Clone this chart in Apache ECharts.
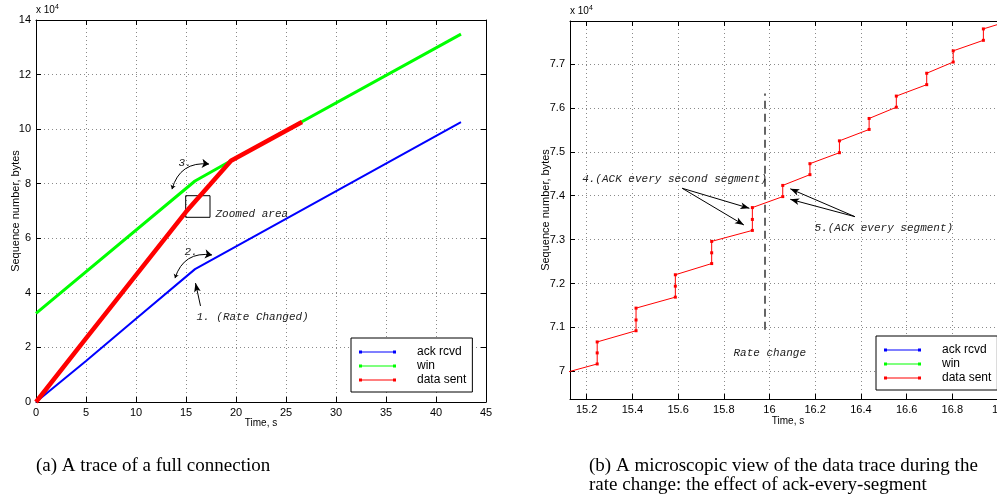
<!DOCTYPE html>
<html>
<head>
<meta charset="utf-8">
<script src="https://cdn.jsdelivr.net/npm/echarts@6/dist/echarts.min.js"></script>
<style>
  html, body { margin: 0; padding: 0; background: #fff; }
  #chart { width: 997px; height: 499px; }
</style>
</head>
<body>
<div id="chart"></div>
<script>
// (a) trace of the full connection: [time s, sequence number bytes]
const ackRcvd = [[0, 0], [5, 15000], [10, 30500], [15.9, 48700], [42.5, 102600]];
const win = [[0, 32500], [15.9, 81000], [19.5, 88400], [42.5, 134800]];
const dataSent = [[0, 0], [5, 23300], [10, 46500], [15, 69700], [19.5, 88400], [26.6, 102600]];

// (b) microscopic view around the rate change (data sent only)
const dataSentZoom = [
  [15.10, 69960],
  [15.246, 70168], [15.246, 70420], [15.246, 70670],
  [15.416, 70925], [15.416, 71170], [15.416, 71440],
  [15.588, 71690], [15.588, 71940], [15.588, 72200],
  [15.747, 72455], [15.747, 72700], [15.747, 72960],
  [15.925, 73210], [15.925, 73460], [15.925, 73730],
  [16.058, 73980], [16.058, 74235],
  [16.177, 74480], [16.177, 74730],
  [16.306, 74980], [16.306, 75250],
  [16.436, 75510], [16.436, 75760],
  [16.555, 76016], [16.555, 76270],
  [16.688, 76530], [16.688, 76790],
  [16.804, 77045], [16.804, 77300],
  [16.936, 77540], [16.936, 77800],
  [17.03, 77950]
];

const seriesNames = ['ack rcvd', 'win', 'data sent'];
const colors = ['#0000ff', '#00ff00', '#ff0000'];
const captionA = '(a) A trace of a full connection';
const captionB = '(b) A microscopic view of the data trace during the\nrate change: the effect of ack-every-segment';

const sans = 'Liberation Sans, Arial, Helvetica, sans-serif';
const mono = 'Liberation Mono, Courier New, monospace';
const serif = 'Liberation Serif, Times New Roman, serif';

const myChart = echarts.init(document.getElementById('chart'));

const gridLine = {show: true, lineStyle: {color: '#8a8a8a', type: [1, 3], width: 1}};

function axis(gridIndex, position, min, max, step, main, extra) {
  return Object.assign({
    type: 'value',
    gridIndex: gridIndex,
    position: position,
    min: min,
    max: max,
    minInterval: step,
    maxInterval: step,
    splitNumber: 30,
    axisLine: {show: true, onZero: false, lineStyle: {color: '#000', width: 1}},
    axisTick: {show: true, inside: true, length: 5, lineStyle: {color: '#000'}},
    axisLabel: main ? {
      show: true, color: '#000', fontSize: 11, fontFamily: sans, margin: 5
    } : {show: false},
    splitLine: main ? gridLine : {show: false},
    nameMoveOverlap: false
  }, extra || {});
}

const legendIcon = 'path://M0,0h3v3h-3zM3,1h31v1h-31zM34,0h3v3h-3z';
function legend(left, top) {
  return {
    data: seriesNames,
    orient: 'vertical',
    left: left,
    top: top,
    icon: legendIcon,
    itemWidth: 37,
    itemHeight: 3,
    itemGap: 0,
    padding: [7, 6, 5, 8],
    selectedMode: false,
    backgroundColor: '#fff',
    borderColor: '#000',
    borderWidth: 1,
    borderRadius: 0,
    itemStyle: {borderWidth: 0},
    textStyle: {color: '#000', fontSize: 12, fontFamily: sans, lineHeight: 14, padding: [0, 0, 0, 16]}
  };
}

const annoLabel = {
  show: true, position: 'right', distance: 0, formatter: '{b}',
  color: '#222', fontFamily: mono, fontStyle: 'italic', fontSize: 11
};
const arrowLine = {color: '#000', width: 1, type: 'solid'};

// "x 10^4" multiplier, shown as the name of the top axis of each panel
const multName = 'x 10{s|4}';
const multStyle = {
  color: '#000', fontSize: 10, fontFamily: sans, align: 'left', verticalAlign: 'bottom',
  padding: [0, 0, 3, 0],
  rich: {s: {fontSize: 7, fontFamily: sans, padding: [0, 0, 6, 0]}}
};
const xNameStyle = {color: '#000', fontSize: 10, fontFamily: sans};
const yTitleStyle = {color: '#000', fontSize: 11, fontFamily: sans};
const hideEnds = {showMinLabel: false, showMaxLabel: false};
const byTenThousand = v => String(+(v / 10000).toFixed(4));

const yAxes = [
  axis(0, 'left', 0, 140000, 20000, true, {
    name: 'Sequence number, bytes', nameLocation: 'middle', nameGap: 15, nameTextStyle: yTitleStyle
  }),
  axis(0, 'right', 0, 140000, 20000, false),
  axis(1, 'left', 69370, 77980, 1000, true, {
    name: 'Sequence number, bytes', nameLocation: 'middle', nameGap: 19, nameTextStyle: yTitleStyle
  }),
  axis(1, 'right', 69370, 77980, 1000, false)
];
yAxes[0].axisLabel.formatter = byTenThousand;
yAxes[2].axisLabel.formatter = byTenThousand;
Object.assign(yAxes[2].axisLabel, hideEnds);

const xAxes = [
  axis(0, 'bottom', 0, 45, 5, true, {
    name: 'Time, s', nameLocation: 'middle', nameGap: 16, nameTextStyle: xNameStyle
  }),
  axis(0, 'top', 0, 45, 5, false, {
    name: multName, nameLocation: 'start', nameGap: 0, nameTextStyle: multStyle
  }),
  axis(1, 'bottom', 15.127, 17.035, 0.2, true, {
    name: 'Time, s', nameLocation: 'middle', nameGap: 17, nameTextStyle: xNameStyle
  }),
  axis(1, 'top', 15.127, 17.035, 0.2, false, {
    name: multName, nameLocation: 'start', nameGap: 0, nameTextStyle: multStyle
  })
];
Object.assign(xAxes[2].axisLabel, hideEnds);

const captionStyle = {fontFamily: serif, fontSize: 19, fontWeight: 'normal', color: '#000', lineHeight: 19};

myChart.setOption({
  animation: false,
  backgroundColor: '#fff',
  title: [
    {text: captionA, left: 36, top: 457, padding: 0, textStyle: captionStyle},
    {text: captionB, left: 589, top: 457, padding: 0, textStyle: captionStyle}
  ],
  legend: [legend(351, 338), legend(876, 336)],
  grid: [
    {left: 36, top: 20, width: 450, height: 382, outerBoundsMode: 'none', containLabel: false},
    {left: 570, top: 21, width: 436, height: 378, outerBoundsMode: 'none', containLabel: false}
  ],
  xAxis: xAxes,
  yAxis: yAxes,
  series: [
    {
      name: seriesNames[0], type: 'line', xAxisIndex: 0, yAxisIndex: 0,
      data: ackRcvd, showSymbol: false, symbol: 'none', color: colors[0],
      lineStyle: {width: 2, color: colors[0]}, z: 3
    },
    {
      name: seriesNames[1], type: 'line', xAxisIndex: 0, yAxisIndex: 0,
      data: win, showSymbol: false, symbol: 'none', color: colors[1],
      lineStyle: {width: 3, color: colors[1]}, z: 3
    },
    {
      name: seriesNames[2], type: 'line', xAxisIndex: 0, yAxisIndex: 0,
      data: dataSent, showSymbol: false, symbol: 'none', color: colors[2],
      lineStyle: {width: 4.5, color: colors[2]}, z: 4
    },
    {
      // straight annotations of panel (a)
      name: 'notes a', type: 'line', xAxisIndex: 0, yAxisIndex: 0, data: [], silent: true, z: 5,
      markLine: {
        silent: true, animation: false, symbolSize: [5, 9], label: {show: false},
        lineStyle: arrowLine,
        data: [
          [{coord: [16.45, 35200], symbol: 'none'}, {coord: [15.95, 43600], symbol: 'arrow'}]
        ]
      },
      markArea: {
        silent: true,
        itemStyle: {color: 'rgba(0,0,0,0)', borderColor: '#000', borderWidth: 1},
        data: [[{coord: [14.97, 75610]}, {coord: [17.4, 67690]}]]
      },
      markPoint: {
        silent: true, symbol: 'rect', symbolSize: 1, itemStyle: {color: 'rgba(0,0,0,0)'},
        label: annoLabel,
        data: [
          {name: '3.', coord: [14.2, 87600]},
          {name: '2.', coord: [14.8, 54900]},
          {name: '1. (Rate Changed)', coord: [16.0, 31150]},
          {name: 'Zoomed area', coord: [17.9, 68900]}
        ]
      }
    },
    {
      // curved double arrows 2. and 3. of panel (a)
      name: 'curves a', type: 'lines', coordinateSystem: 'cartesian2d',
      xAxisIndex: 0, yAxisIndex: 0, silent: true, z: 5,
      symbol: ['arrow', 'arrow'], symbolSize: [4, 7],
      lineStyle: {color: '#000', width: 1, type: 'solid', curveness: 0.42, opacity: 1},
      data: [
        {coords: [[13.6, 78000], [17.3, 87200]]},
        {coords: [[13.9, 45400], [17.6, 53900]]}
      ]
    },
    {
      name: seriesNames[2], type: 'line', xAxisIndex: 2, yAxisIndex: 2,
      data: dataSentZoom, symbol: 'rect', symbolSize: 3, showSymbol: true, showAllSymbol: true,
      color: colors[2], itemStyle: {color: colors[2]},
      lineStyle: {width: 1, color: colors[2]}, z: 4, clip: true
    },
    {
      // annotations of panel (b)
      name: 'notes b', type: 'line', xAxisIndex: 2, yAxisIndex: 2, data: [], silent: true, z: 5,
      markLine: {
        silent: true, animation: false, symbolSize: [5, 9], label: {show: false},
        lineStyle: arrowLine,
        data: [
          [{coord: [15.618, 74170], symbol: 'none'}, {coord: [15.912, 73714], symbol: 'arrow'}],
          [{coord: [15.618, 74170], symbol: 'none'}, {coord: [15.888, 73334], symbol: 'arrow'}],
          [{coord: [16.374, 73523], symbol: 'none'}, {coord: [16.091, 74157], symbol: 'arrow'}],
          [{coord: [16.374, 73523], symbol: 'none'}, {coord: [16.091, 73918], symbol: 'arrow'}],
          [{coord: [15.98, 70948], symbol: 'none', lineStyle: {color: '#333', width: 1.5, type: [8, 5]}},
           {coord: [15.98, 76330], symbol: 'none'}]
        ]
      },
      markPoint: {
        silent: true, symbol: 'rect', symbolSize: 1, itemStyle: {color: 'rgba(0,0,0,0)'},
        label: annoLabel,
        data: [
          {name: '4.(ACK every second segment)', coord: [15.178, 74380]},
          {name: '5.(ACK every segment)', coord: [16.195, 73260]},
          {name: 'Rate change', coord: [15.84, 70425]}
        ]
      }
    }
  ]
});
</script>
</body>
</html>
